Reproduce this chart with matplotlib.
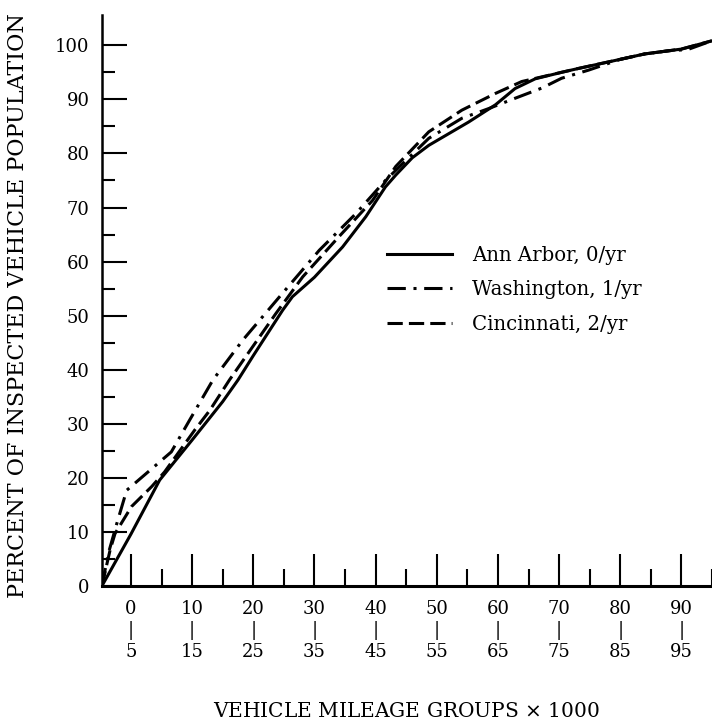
import matplotlib.pyplot as plt

plt.rcParams['font.family'] = ['DejaVu Serif']

# cumulative percent of inspected vehicles vs mileage group (x1000)
ann_x = [-4.75, 0, 4.7, 10, 15, 17.5, 20, 24.8, 26.4, 30, 34.6, 38.4, 41.6, 43.3, 46,
         48.7, 55.2, 59.6, 62.8, 66.1, 70.4, 73.1, 80, 84, 90, 94.9]
ann_y = [0, 9.6, 19.6, 27.0, 34.1, 38.1, 42.6, 51.0, 53.5, 57.1, 62.7, 68.3, 73.8, 76.0, 79.2,
         81.5, 85.8, 89.0, 92.0, 93.8, 95.0, 95.7, 97.4, 98.4, 99.3, 100.8]

wash_x = [-4.75, -3.7, -2.3, -0.7, 2.8, 6.6, 9.6, 13.4, 18.3, 24.3, 30.8, 36.8, 41.6,
          48.7, 54.1, 58.5, 62.8, 67.2, 70.4, 74.8, 80, 84, 88, 91, 94.9]
wash_y = [0, 6.0, 11.6, 17.7, 21.1, 24.8, 30.7, 38.1, 45.5, 53.5, 62.1, 68.9, 75.0,
          82.8, 86.5, 88.3, 90.2, 92.1, 93.9, 95.4, 97.4, 98.4, 99.0, 99.2, 100.8]

cin_x = [-4.75, -3.4, -2.6, 0.1, 3.4, 5.5, 10.4, 12.9, 16.1, 23.7, 28.1, 34.0, 39.5,
         43.3, 48.7, 54.1, 59.6, 63.9, 70.4, 73.1, 80, 84, 90, 94.9]
cin_y = [0, 6.7, 9.7, 14.7, 18.4, 21.1, 28.8, 32.5, 38.1, 50.4, 57.2, 64.6, 71.3,
         77.6, 84.0, 88.0, 91.1, 93.3, 95.0, 95.7, 97.4, 98.4, 99.3, 100.8]

series_names = ['Ann Arbor, 0/yr', 'Washington, 1/yr', 'Cincinnati, 2/yr']

x_major = [0, 10, 20, 30, 40, 50, 60, 70, 80, 90]
x_minor = [5, 15, 25, 35, 45, 55, 65, 75, 85, 95]
x_labels = ['0\n|\n5', '10\n|\n15', '20\n|\n25', '30\n|\n35', '40\n|\n45',
            '50\n|\n55', '60\n|\n65', '70\n|\n75', '80\n|\n85', '90\n|\n95']
y_major = [0, 10, 20, 30, 40, 50, 60, 70, 80, 90, 100]
y_minor = [5, 15, 25, 35, 45, 55, 65, 75, 85, 95]

fig = plt.figure(figsize=(7.12, 7.25), dpi=100)
ax = fig.add_axes([0.1431, 0.1917, 0.8569, 0.7876])

ax.plot(ann_x, ann_y, color='k', lw=2.2, label=series_names[0])
ax.plot(wash_x, wash_y, color='k', lw=2.2, ls=(0, (6, 2.5, 1, 2.5)), label=series_names[1])
ax.plot(cin_x, cin_y, color='k', lw=2.2, ls=(0, (5, 2)), label=series_names[2])

ax.set_xlim(-4.75, 94.9)
ax.set_ylim(0, 105.6)

ax.spines['top'].set_visible(False)
ax.spines['right'].set_visible(False)
ax.spines['left'].set_linewidth(1.8)
ax.spines['bottom'].set_linewidth(2.2)

ax.set_xticks(x_major, labels=x_labels)
ax.set_xticks(x_minor, minor=True)
ax.set_yticks(y_major)
ax.set_yticks(y_minor, minor=True)

ax.tick_params(axis='x', which='major', direction='in', length=23, width=1.5,
               labelsize=13, pad=10)
ax.tick_params(axis='x', which='minor', direction='in', length=12, width=1.5)
ax.tick_params(axis='y', which='major', direction='in', length=18, width=1.5,
               labelsize=13, pad=9)
ax.tick_params(axis='y', which='minor', direction='in', length=9, width=1.5)
for lab in ax.get_xticklabels():
    lab.set_linespacing(1.2)

fig.text(18 / 712, 0.578, 'PERCENT OF INSPECTED VEHICLE POPULATION', rotation=90,
         ha='center', va='center', fontsize=16)
fig.text(406 / 712, 0.018, 'VEHICLE MILEAGE GROUPS $\\times$ 1000', ha='center',
         va='center', fontsize=14.5)

ax.legend(loc='upper left', bbox_to_anchor=(387 / 712, (725 - 246) / 725),
          bbox_transform=fig.transFigure, frameon=False, fontsize=14.2,
          handlelength=3.3, handletextpad=1.0, labelspacing=0.78,
          borderpad=0, borderaxespad=0)

fig.savefig('out.png', dpi=100)
